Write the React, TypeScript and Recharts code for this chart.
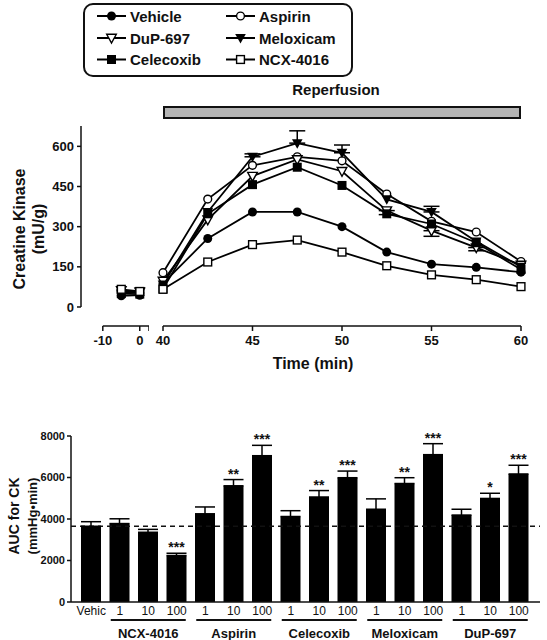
import React from 'react';
import {
  LineChart, Line, XAxis, YAxis, ReferenceLine, ErrorBar,
  BarChart, Bar, LabelList,
} from 'recharts';

const FONT = '"Liberation Sans", Arial, Helvetica, sans-serif';
const INK = '#111';

// --- creatine kinase time course (mU/g) ---
const preTimes = [-5, 0];
const mainTimes = [40, 42.5, 45, 47.5, 50, 52.5, 55, 57.5, 60];
const ckTicks = [0, 150, 300, 450, 600];

const vehiclePre = [42, 44];
const vehicleMain = [88, 256, 355, 355, 300, 205, 160, 148, 130];
const aspirinPre = [58, 52];
const aspirinMain = [128, 403, 529, 561, 546, 422, 320, 280, 170];
const dupPre = [62, 56];
const dupMain = [97, 326, 489, 551, 507, 360, 285, 222, 157];
const meloxPre = [50, 60];
const meloxMain = [84, 355, 561, 612, 576, 402, 355, 245, 150];
const celecoxibPre = [50, 48];
const celecoxibMain = [68, 348, 457, 522, 454, 348, 310, 240, 140];
const ncxPre = [66, 58];
const ncxMain = [66, 168, 233, 250, 205, 154, 120, 102, 76];

// one-sided SEM, only where the figure shows it
const meloxErrUp = [null, null, 11, 46, 29, null, 21, null, null];
const dupErrDown = [null, null, null, null, null, 15, 21, 12, null];

const series = [
  { key: 'vehicle', name: 'Vehicle', shape: 'dot', pre: vehiclePre, main: vehicleMain },
  { key: 'aspirin', name: 'Aspirin', shape: 'circle', pre: aspirinPre, main: aspirinMain },
  { key: 'dup', name: 'DuP-697', shape: 'openTri', pre: dupPre, main: dupMain },
  { key: 'melox', name: 'Meloxicam', shape: 'tri', pre: meloxPre, main: meloxMain },
  { key: 'celecoxib', name: 'Celecoxib', shape: 'square', pre: celecoxibPre, main: celecoxibMain },
  { key: 'ncx', name: 'NCX-4016', shape: 'openSquare', pre: ncxPre, main: ncxMain },
];

// --- AUC for CK (mmHg*min) ---
const barLabels = ['Vehic', '1', '10', '100', '1', '10', '100', '1', '10', '100', '1', '10', '100', '1', '10', '100'];
const groupNames = ['NCX-4016', 'Aspirin', 'Celecoxib', 'Meloxicam', 'DuP-697'];
const aucMeans = [3650, 3780, 3360, 2240, 4250, 5600, 7050, 4120, 5060, 5990, 4470, 5710, 7100, 4190, 4990, 6170];
const aucErrors = [220, 230, 140, 110, 330, 300, 500, 280, 310, 320, 500, 280, 530, 280, 250, 420];
const aucStars = ['', '', '', '***', '', '**', '***', '', '**', '***', '', '**', '***', '', '*', '***'];
const aucTicks = [0, 2000, 4000, 6000, 8000];

const CK_DOMAIN = [-71, 676];
const PRE_DOMAIN = [-15.9, 2.5];

function Marker({ cx, cy, shape, size = 9 }: any) {
  if (cx == null || cy == null) return null;
  const r = size / 2;
  switch (shape) {
    case 'dot':
      return <circle cx={cx} cy={cy} r={r} fill="#000" />;
    case 'circle':
      return <circle cx={cx} cy={cy} r={r - 0.6} fill="#fff" stroke="#000" strokeWidth={1.4} />;
    case 'square':
      return <rect x={cx - r} y={cy - r} width={size} height={size} fill="#000" />;
    case 'openSquare':
      return <rect x={cx - r + 0.6} y={cy - r + 0.6} width={size - 1.2} height={size - 1.2} fill="#fff" stroke="#000" strokeWidth={1.4} />;
    case 'tri':
      return <polygon points={`${cx - r - 0.8},${cy - r + 0.5} ${cx + r + 0.8},${cy - r + 0.5} ${cx},${cy + r + 1}`} fill="#000" />;
    case 'openTri':
      return <polygon points={`${cx - r - 0.3},${cy - r + 0.8} ${cx + r + 0.3},${cy - r + 0.8} ${cx},${cy + r + 0.6}`} fill="#fff" stroke="#000" strokeWidth={1.4} />;
    default:
      return null;
  }
}

const boldTick = { fill: INK, fontSize: 13, fontWeight: 700, fontFamily: FONT };

function seriesLines(withErrors: boolean) {
  return series.map((s) => (
    <Line
      key={s.key}
      type="linear"
      dataKey={s.key}
      stroke="#000"
      strokeWidth={1.8}
      isAnimationActive={false}
      dot={(p: any) => <Marker key={`${s.key}-${p.index}`} cx={p.cx} cy={p.cy} shape={s.shape} />}
      activeDot={false}
    >
      {withErrors && s.key === 'melox' && (
        <ErrorBar dataKey="meloxErr" width={8} stroke="#000" strokeWidth={1.5} direction="y" />
      )}
      {withErrors && s.key === 'dup' && (
        <ErrorBar dataKey="dupErr" width={8} stroke="#000" strokeWidth={1.5} direction="y" />
      )}
    </Line>
  ));
}

function StarLabel(props: any) {
  const { x, y, width, height, index } = props;
  const stars = aucStars[index];
  if (!stars) return null;
  const errPx = (aucErrors[index] / aucMeans[index]) * height;
  return (
    <text x={x + width / 2} y={y - errPx - 1} textAnchor="middle" fontSize={14} fontWeight={700} fontFamily={FONT} fill={INK}>
      {stars}
    </text>
  );
}

function BarTick(props: any) {
  const { x, y } = props;
  const index = props.index ?? props.payload?.index ?? 0;
  const g = index - 1;
  const isMid = g >= 0 && g % 3 === 1;
  return (
    <g>
      <text x={x} y={y + 13} textAnchor="middle" fontSize={12} fontFamily={FONT} fill={INK}>
        {barLabels[index]}
      </text>
      {isMid && (
        <>
          <line x1={x - 37.5} x2={x + 37.5} y1={y + 18} y2={y + 18} stroke={INK} strokeWidth={2} />
          <text x={x} y={y + 35.5} textAnchor="middle" fontSize={13} fontWeight={700} fontFamily={FONT} fill={INK}>
            {groupNames[Math.floor(g / 3)]}
          </text>
        </>
      )}
    </g>
  );
}

function Overlay() {
  const rows = [16, 38, 59.5];
  return (
    <svg width={547} height={640} style={{ position: 'absolute', left: 0, top: 0 }} fontFamily={FONT}>
      {/* legend */}
      <rect x={84} y={4} width={268} height={72} rx={9} fill="#fff" stroke={INK} strokeWidth={2} />
      {series.map((s, i) => {
        const col = i % 2;
        const cy = rows[Math.floor(i / 2)];
        const x0 = col ? 226 : 97;
        return (
          <g key={s.key}>
            <line x1={x0} x2={x0 + 29} y1={cy} y2={cy} stroke="#000" strokeWidth={2} />
            <Marker cx={x0 + 14.5} cy={cy} shape={s.shape} />
            <text x={x0 + 33} y={cy} dominantBaseline="central" fontSize={15} fontWeight={700} fill={INK}>
              {s.name}
            </text>
          </g>
        );
      })}

      {/* reperfusion period */}
      <text x={336} y={95} textAnchor="middle" fontSize={15} fontWeight={700} fill={INK}>Reperfusion</text>
      <rect x={164} y={107} width={356} height={11} fill="#b4b4b4" stroke={INK} strokeWidth={2} />

      {/* axis titles */}
      <text transform="translate(19,229) rotate(-90)" textAnchor="middle" dominantBaseline="central" fontSize={16} fontWeight={700} fill={INK}>
        Creatine Kinase
      </text>
      <text transform="translate(38,229) rotate(-90)" textAnchor="middle" dominantBaseline="central" fontSize={16} fontWeight={700} fill={INK}>
        (mU/g)
      </text>
      <text x={313} y={363} textAnchor="middle" dominantBaseline="central" fontSize={16} fontWeight={700} fill={INK}>
        Time (min)
      </text>
      <text transform="translate(14,516) rotate(-90)" textAnchor="middle" dominantBaseline="central" fontSize={14} fontWeight={700} fill={INK}>
        AUC for CK
      </text>
      <text transform="translate(32,516) rotate(-90)" textAnchor="middle" dominantBaseline="central" fontSize={13} fontWeight={700} fill={INK}>
        (mmHg•min)
      </text>
    </svg>
  );
}

export default function App() {
  const preRows = preTimes.map((t, i) => {
    const row: any = { t };
    series.forEach((s) => { row[s.key] = s.pre[i]; });
    return row;
  });
  const mainRows = mainTimes.map((t, i) => {
    const row: any = { t };
    series.forEach((s) => { row[s.key] = s.main[i]; });
    row.meloxErr = meloxErrUp[i] == null ? null : [0, meloxErrUp[i]];
    row.dupErr = dupErrDown[i] == null ? null : [dupErrDown[i], 0];
    return row;
  });
  const barRows = barLabels.map((label, i) => ({
    slot: `b${i}`,
    label,
    auc: aucMeans[i],
    err: [0, aucErrors[i]],
    stars: aucStars[i],
  }));

  const axisStroke = { stroke: INK, strokeWidth: 1.5 };

  return (
    <div style={{ position: 'absolute', left: 0, top: 0, width: 547, height: 640, background: '#fff', fontFamily: FONT }}>
      <Overlay />

      {/* baseline segment, before ischemia */}
      <div style={{ position: 'absolute', left: 0, top: 116 }}>
        <LineChart width={149} height={238} data={preRows} margin={{ top: 10, right: 0, bottom: 0, left: 0 }}>
          <XAxis
            dataKey="t"
            type="number"
            domain={PRE_DOMAIN}
            ticks={[-10, 0, 2.5]}
            interval={0}
            tickFormatter={(v: number) => (v === 2.5 ? '' : String(v))}
            axisLine={false}
            tickLine={axisStroke}
            tickSize={5}
            tickMargin={5}
            height={28}
            tick={boldTick}
          />
          <YAxis
            type="number"
            domain={CK_DOMAIN}
            ticks={ckTicks}
            interval={0}
            width={81}
            axisLine={false}
            tickLine={axisStroke}
            tickSize={4}
            tickMargin={3}
            tick={boldTick}
          />
          <ReferenceLine segment={[{ x: PRE_DOMAIN[0], y: 0 }, { x: PRE_DOMAIN[0], y: CK_DOMAIN[1] }]} stroke={INK} strokeWidth={1.5} />
          <ReferenceLine segment={[{ x: -10, y: CK_DOMAIN[0] }, { x: 2.5, y: CK_DOMAIN[0] }]} stroke={INK} strokeWidth={1.5} />
          {seriesLines(false)}
        </LineChart>
      </div>

      {/* reperfusion segment */}
      <div style={{ position: 'absolute', left: 140, top: 116 }}>
        <LineChart width={391} height={238} data={mainRows} margin={{ top: 10, right: 10, bottom: 0, left: 23 }}>
          <XAxis
            dataKey="t"
            type="number"
            domain={[40, 60]}
            ticks={[40, 45, 50, 55, 60]}
            interval={0}
            axisLine={axisStroke}
            tickLine={axisStroke}
            tickSize={5}
            tickMargin={5}
            height={28}
            tick={boldTick}
          />
          <YAxis type="number" domain={CK_DOMAIN} hide />
          {seriesLines(true)}
        </LineChart>
      </div>

      {/* AUC bars */}
      <div style={{ position: 'absolute', left: 0, top: 420 }}>
        <BarChart width={547} height={220} data={barRows} margin={{ top: 16, right: 7, bottom: 0, left: 0 }}>
          <XAxis
            dataKey="slot"
            interval={0}
            padding={{ left: 6, right: 7 }}
            axisLine={axisStroke}
            tickLine={false}
            tickSize={0}
            tickMargin={0}
            height={38}
            tick={<BarTick />}
          />
          <YAxis
            type="number"
            domain={[0, 8000]}
            ticks={aucTicks}
            interval={0}
            width={71}
            axisLine={axisStroke}
            tickLine={axisStroke}
            tickSize={4}
            tickMargin={2}
            tick={{ ...boldTick, fontSize: 11 }}
          />
          <ReferenceLine y={aucMeans[0]} stroke={INK} strokeWidth={1.6} strokeDasharray="5 4" />
          <Bar dataKey="auc" fill="#000" barSize={20} isAnimationActive={false}>
            <ErrorBar dataKey="err" width={10} stroke="#000" strokeWidth={1.5} direction="y" />
            <LabelList dataKey="stars" content={<StarLabel />} />
          </Bar>
        </BarChart>
      </div>
    </div>
  );
}
